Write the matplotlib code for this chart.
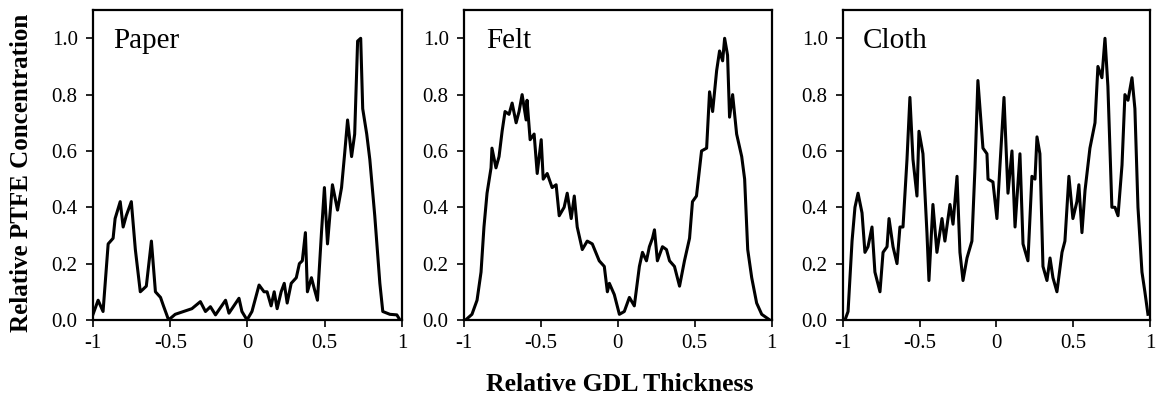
import matplotlib
matplotlib.use("Agg")
import matplotlib.pyplot as plt

plt.rcParams["font.family"] = ["Liberation Serif", "DejaVu Serif"]


# 1. DATA
paper_x = [-1.00, -0.967, -0.935, -0.902, -0.87, -0.857, -0.824, -0.805, -0.785, -0.752,
           -0.726, -0.694, -0.674, -0.655, -0.622, -0.596, -0.563, -0.544, -0.524, -0.511,
           -0.468, -0.36, -0.305, -0.272, -0.24, -0.207, -0.142, -0.12, -0.055, -0.036,
           -0.003, 0.029, 0.075, 0.107, 0.127, 0.153, 0.173, 0.192, 0.218, 0.238,
           0.257, 0.283, 0.316, 0.336, 0.355, 0.375, 0.388, 0.414, 0.433, 0.453,
           0.479, 0.498, 0.518, 0.55, 0.583, 0.609, 0.629, 0.648, 0.674, 0.694,
           0.713, 0.733, 0.746, 0.772, 0.792, 0.824, 0.857, 0.876, 0.922, 0.967, 0.987]
paper_y = [0.02, 0.07, 0.03, 0.27, 0.29, 0.36, 0.42, 0.33, 0.37, 0.42,
           0.25, 0.10, 0.11, 0.12, 0.28, 0.10, 0.08, 0.05, 0.02, 0.0,
           0.02, 0.04, 0.065, 0.03, 0.047, 0.018, 0.07, 0.024, 0.077, 0.03,
           0.0, 0.03, 0.124, 0.10, 0.10, 0.05, 0.10, 0.04, 0.10, 0.13,
           0.06, 0.13, 0.15, 0.20, 0.21, 0.31, 0.10, 0.15, 0.11, 0.07,
           0.31, 0.47, 0.27, 0.48, 0.39, 0.47, 0.59, 0.71, 0.58, 0.66,
           0.99, 1.0, 0.75, 0.66, 0.57, 0.37, 0.13, 0.03, 0.02, 0.018, 0.0]

felt_x = [-0.989, -0.948, -0.915, -0.889, -0.870, -0.850, -0.824, -0.818, -0.792, -0.772,
          -0.752, -0.733, -0.707, -0.687, -0.661, -0.642, -0.622, -0.596, -0.590, -0.570,
          -0.544, -0.524, -0.498, -0.485, -0.459, -0.427, -0.401, -0.381, -0.349, -0.329,
          -0.303, -0.283, -0.264, -0.231, -0.199, -0.166, -0.121, -0.088, -0.068, -0.055,
          -0.023, 0.010, 0.042, 0.075, 0.107, 0.140, 0.160, 0.186, 0.205, 0.225,
          0.238, 0.257, 0.290, 0.316, 0.336, 0.368, 0.401, 0.433, 0.466, 0.485,
          0.511, 0.544, 0.577, 0.596, 0.616, 0.642, 0.661, 0.681, 0.694, 0.713,
          0.726, 0.746, 0.772, 0.805, 0.824, 0.844, 0.870, 0.902, 0.935, 0.987]
felt_y = [0.0, 0.02, 0.07, 0.17, 0.33, 0.45, 0.54, 0.61, 0.54, 0.58,
          0.67, 0.74, 0.73, 0.77, 0.70, 0.74, 0.80, 0.71, 0.78, 0.64,
          0.66, 0.52, 0.64, 0.50, 0.52, 0.47, 0.48, 0.37, 0.40, 0.45,
          0.36, 0.44, 0.33, 0.25, 0.28, 0.27, 0.21, 0.19, 0.10, 0.13,
          0.09, 0.02, 0.03, 0.08, 0.05, 0.19, 0.24, 0.21, 0.26, 0.29,
          0.32, 0.21, 0.26, 0.25, 0.21, 0.19, 0.12, 0.21, 0.29, 0.42,
          0.44, 0.60, 0.61, 0.81, 0.74, 0.885, 0.955, 0.92, 1.0, 0.94,
          0.72, 0.80, 0.66, 0.58, 0.50, 0.25, 0.15, 0.06, 0.02, 0.0]

cloth_x = [-0.987, -0.967, -0.941, -0.922, -0.902, -0.876, -0.857, -0.837, -0.811, -0.792,
           -0.759, -0.739, -0.713, -0.700, -0.674, -0.648, -0.629, -0.609, -0.583, -0.564,
           -0.544, -0.518, -0.505, -0.479, -0.453, -0.440, -0.414, -0.388, -0.355, -0.336,
           -0.303, -0.283, -0.257, -0.238, -0.218, -0.192, -0.160, -0.140, -0.121, -0.088,
           -0.062, -0.055, -0.023, 0.003, 0.023, 0.049, 0.075, 0.101, 0.121, 0.153,
           0.173, 0.205, 0.231, 0.251, 0.264, 0.283, 0.303, 0.329, 0.349, 0.368,
           0.394, 0.427, 0.446, 0.472, 0.498, 0.524, 0.537, 0.557, 0.577, 0.609,
           0.642, 0.661, 0.687, 0.707, 0.726, 0.752, 0.772, 0.792, 0.818, 0.837,
           0.857, 0.883, 0.902, 0.922, 0.948, 0.967, 0.987]
cloth_y = [0.0, 0.03, 0.28, 0.40, 0.45, 0.38, 0.24, 0.26, 0.33, 0.17,
           0.10, 0.24, 0.26, 0.36, 0.26, 0.20, 0.33, 0.33, 0.57, 0.79,
           0.57, 0.44, 0.67, 0.59, 0.31, 0.14, 0.41, 0.24, 0.36, 0.28,
           0.41, 0.34, 0.51, 0.24, 0.14, 0.22, 0.28, 0.54, 0.85, 0.61,
           0.59, 0.50, 0.49, 0.36, 0.55, 0.79, 0.45, 0.60, 0.33, 0.59,
           0.27, 0.21, 0.51, 0.50, 0.65, 0.59, 0.19, 0.14, 0.22, 0.15,
           0.10, 0.24, 0.28, 0.51, 0.36, 0.42, 0.48, 0.31, 0.46, 0.61,
           0.70, 0.90, 0.86, 1.0, 0.83, 0.40, 0.40, 0.37, 0.55, 0.80,
           0.78, 0.86, 0.75, 0.40, 0.17, 0.10, 0.02]

panel_names = ["Paper", "Felt", "Cloth"]
x_ticks = [-1, -0.5, 0, 0.5, 1]
x_tick_labels = ["-1", "-0.5", "0", "0.5", "1"]
y_ticks = [0.0, 0.2, 0.4, 0.6, 0.8, 1.0]


# 2. FIGURE
fig = plt.figure(figsize=(11.57, 4.05), dpi=100)

boxes = [
    [0.0804, 0.21, 0.267, 0.765],
    [0.401, 0.21, 0.266, 0.765],
    [0.7286, 0.21, 0.2653, 0.765],
]
curves = [(paper_x, paper_y), (felt_x, felt_y), (cloth_x, cloth_y)]
name_x = [0.065, 0.071, 0.065]

for box, (xs, ys), name, nx in zip(boxes, curves, panel_names, name_x):
    ax = fig.add_axes(box)
    ax.plot(xs, ys, color="black", linewidth=2.2)
    ax.set_xlim(-1, 1)
    ax.set_ylim(0, 1.1)
    ax.set_xticks(x_ticks)
    ax.set_xticklabels(x_tick_labels)
    ax.set_yticks(y_ticks)
    ax.set_yticklabels([f"{v:.1f}" for v in y_ticks])
    ax.tick_params(direction="out", length=5, width=1.2, labelsize=15)
    ax.tick_params(axis="x", pad=5)
    ax.tick_params(axis="y", pad=6)
    for s in ax.spines.values():
        s.set_linewidth(1.6)
        s.set_color("black")
    ax.text(nx, 0.877, name, transform=ax.transAxes, fontsize=21, va="baseline")

fig.text(0.019, 0.574, "Relative PTFE Concentration", rotation=90,
         fontsize=18, fontweight="bold", ha="center", va="center")
fig.text(0.536, 0.05, "Relative GDL Thickness",
         fontsize=18.5, fontweight="bold", ha="center", va="center")

fig.savefig("out.png", dpi=100)
plt.close()
